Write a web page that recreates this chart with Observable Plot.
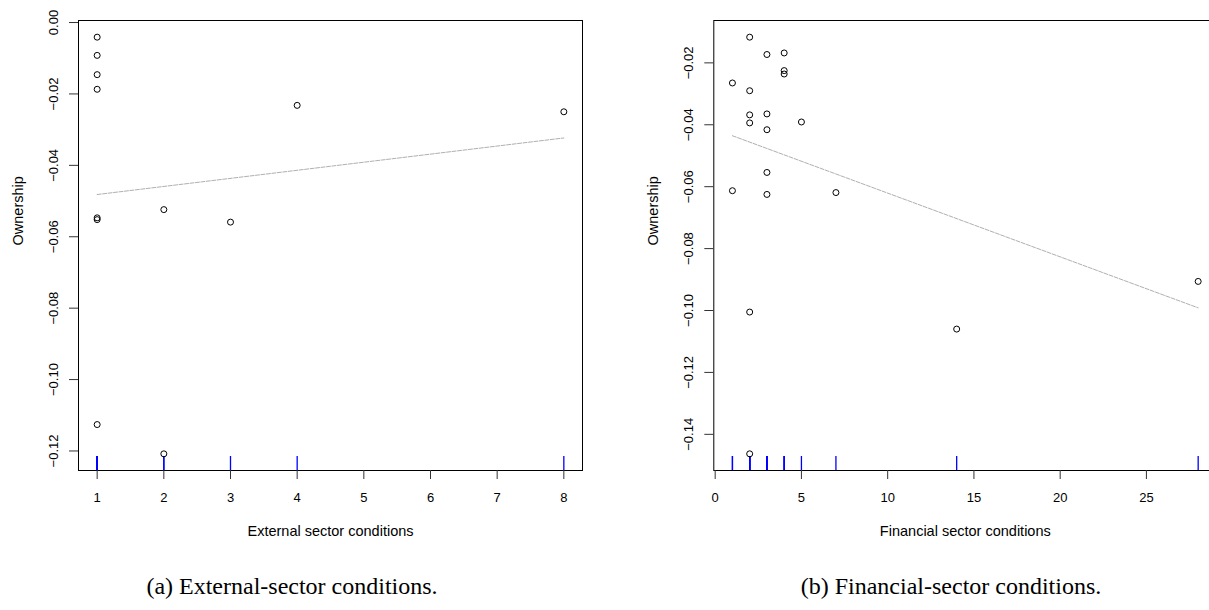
<!DOCTYPE html>
<html>
<head>
<meta charset="utf-8">
<script src="https://cdn.jsdelivr.net/npm/d3@7"></script>
<script src="https://cdn.jsdelivr.net/npm/@observablehq/plot@0.6"></script>
<style>
  html, body { margin: 0; padding: 0; background: #fff; overflow: hidden; }
  #wrap { position: relative; width: 1209px; height: 610px; overflow: hidden; background: #fff; }
  .panel { position: absolute; top: 0; width: 600px; height: 560px; }
  .panel svg { max-width: none !important; }
  .caption {
    position: absolute; top: 574px; white-space: nowrap; transform: translateX(-50%);
    font-family: "Liberation Serif", "Times New Roman", serif; font-size: 24px; color: #000; line-height: 1;
  }
</style>
</head>
<body>
<div id="wrap">
  <div class="panel" id="panelA" style="left:0px"></div>
  <div class="panel" id="panelB" style="left:630px"></div>
  <div class="caption" style="left:292px">(a) External-sector conditions.</div>
  <div class="caption" style="left:951px">(b) Financial-sector conditions.</div>
</div>
<script>
// (a) external-sector conditions vs ownership
const extConditions = [1, 1, 1, 1, 1, 1, 1, 2, 2, 3, 4, 8];
const extOwnership = [-0.0041, -0.0092, -0.0146, -0.0187, -0.0547, -0.0552, -0.1126,
                      -0.0524, -0.1208, -0.0559, -0.0232, -0.0250];
const extXTicks = [1, 2, 3, 4, 5, 6, 7, 8];
const extYTicks = [0, -0.02, -0.04, -0.06, -0.08, -0.10, -0.12];

// (b) financial-sector conditions vs ownership
const finConditions = [2, 3, 4, 4, 4, 1, 2, 2, 2, 3, 5, 3, 3, 1, 3, 7, 2, 2, 14, 28];
const finOwnership = [-0.0117, -0.0173, -0.0168, -0.0225, -0.0236, -0.0265, -0.0290,
                      -0.0368, -0.0394, -0.0365, -0.0391, -0.0416, -0.0554, -0.0613,
                      -0.0625, -0.0619, -0.1005, -0.1463, -0.1060, -0.0906];
const finXTicks = [0, 5, 10, 15, 20, 25];
const finYTicks = [-0.02, -0.04, -0.06, -0.08, -0.10, -0.12, -0.14];

const yTitle = "Ownership";

// extend a data range by 4% on each side (R's default axis style)
function padded(values) {
  const [lo, hi] = d3.extent(values);
  const d = (hi - lo) * 0.04;
  return [lo - d, hi + d];
}

function scatter({xs, ys, xTicks, yTicks, xTitle, marginLeft, marginRight}) {
  const data = xs.map((x, i) => ({x, y: ys[i]}));
  const H = 560, mTop = 20, mBottom = 90;
  const rugLen = 14;
  return Plot.plot({
    width: 600, height: H,
    marginTop: mTop, marginBottom: mBottom, marginLeft, marginRight,
    style: {fontFamily: "'Liberation Sans', Arial, Helvetica, sans-serif", fontSize: "13px", color: "#000", background: "#fff", overflow: "visible"},
    x: {domain: padded(xs)},
    y: {domain: padded(ys)},
    marks: [
      Plot.frame({stroke: "#000", strokeWidth: 1}),
      Plot.axisX(xTicks, {tickSize: 9, tickPadding: 13, stroke: "#333", tickFormat: d3.format("d"), label: null}),
      Plot.axisY(yTicks, {tickSize: 9, tickPadding: 12, tickRotate: -90, stroke: "#333", tickFormat: d3.format(".2f"), label: null}),
      Plot.text([xTitle], {text: d => d, frameAnchor: "bottom", dy: 65, fontSize: 14.5}),
      Plot.text([yTitle], {text: d => d, frameAnchor: "left", dx: -60, rotate: -90, fontSize: 14.5}),
      // rug along the bottom edge
      Plot.tickX(data, {x: "x", stroke: "#0000ff", strokeWidth: 1.3, insetTop: H - mTop - mBottom - rugLen}),
      // least-squares fit
      Plot.linearRegressionY(data, {x: "x", y: "y", ci: 0, stroke: "#b0b0b0", strokeWidth: 1, strokeDasharray: "4,1.5"}),
      Plot.dot(data, {x: "x", y: "y", r: 3, stroke: "#000", strokeWidth: 1, fill: "none"})
    ]
  });
}

document.getElementById("panelA").append(scatter({
  xs: extConditions, ys: extOwnership, xTicks: extXTicks, yTicks: extYTicks,
  xTitle: "External sector conditions", marginLeft: 78, marginRight: 18
}));
document.getElementById("panelB").append(scatter({
  xs: finConditions, ys: finOwnership, xTicks: finXTicks, yTicks: finYTicks,
  xTitle: "Financial sector conditions", marginLeft: 83.3, marginRight: 13.7
}));
</script>
</body>
</html>
